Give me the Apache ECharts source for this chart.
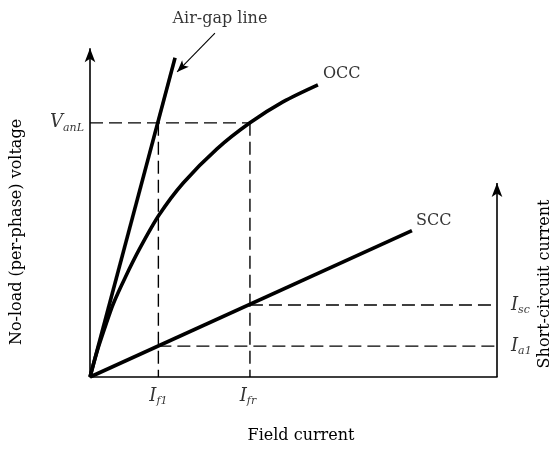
<!DOCTYPE html>
<html>
<head>
<meta charset="utf-8">
<script src="https://cdn.jsdelivr.net/npm/echarts@6/dist/echarts.min.js"></script>
<style>
html,body{margin:0;padding:0;background:#fff;}
#chart{width:557px;height:449px;}
</style>
</head>
<body>
<div id="chart"></div>
<script>
// ---- data (arbitrary units; schematic) ----
const occX = [0, 0.17, 0.37, 0.57, 0.86, 1.23, 1.70, 2.29, 3.12, 3.93, 4.74, 5.60];
const occY = [0, 0.78, 1.55, 2.27, 3.08, 4.01, 5.04, 6.03, 7.09, 7.90, 8.55, 9.08];
const airGapX = [0, 2.09];
const airGapY = [0, 9.92];
const sccX = [0, 7.91];
const sccY = [0, 4.55];
const If1 = 1.68;
const Ifr = 3.93;
const VanL = 7.90;
const Ia1 = 0.96;
const Isc = 2.24;
const xMax = 10;
const leftAxisTop = 10.22;
const rightAxisTop = 6.03;
const noteStart = [3.07, 10.69];
const noteEnd = [2.14, 9.48];

const FONT = '"DejaVu Serif", "Liberation Serif", serif';
const pairs = (xs, ys) => xs.map((x, i) => [x, ys[i]]);

const solid = (w) => ({ color: '#000', width: w, type: 'solid' });
const dash = { color: '#000', width: 1.4, type: [13, 6] };

function seg(name, pts, style) {
  return { type: 'line', name, data: pts, showSymbol: false, silent: true,
    lineStyle: style, z: 3 };
}

const rich = {
  i: { fontFamily: FONT, fontStyle: 'italic', fontSize: 18, lineHeight: 22, color: '#000' },
  s: { fontFamily: FONT, fontStyle: 'italic', fontSize: 11, lineHeight: 11, color: '#000', verticalAlign: 'bottom' },
  t: { fontFamily: FONT, fontSize: 16, color: '#000' }
};

const labels = [
  { value: [occX[occX.length - 1], occY[occY.length - 1]], text: '{t|OCC}', pos: 'right', dist: 5, off: [0, -11] },
  { value: [sccX[1], sccY[1]], text: '{t|SCC}', pos: 'right', dist: 4, off: [0, -10] },
  { value: noteStart, text: '{t|Air-gap line}', pos: 'top', dist: 6, off: [5, 0] },
  { value: [0, VanL], text: '{i|V}{s|anL}', pos: 'left', dist: 6, off: [0, 0] },
  { value: [If1, 0], text: '{i|I}{s|f1}', pos: 'bottom', dist: 8, off: [0, 0] },
  { value: [Ifr, 0], text: '{i|I}{s|fr}', pos: 'bottom', dist: 8, off: [-2, 0] },
  { value: [xMax, Isc], text: '{i|I}{s|sc}', pos: 'right', dist: 14, off: [0, 0] },
  { value: [xMax, Ia1], text: '{i|I}{s|a1}', pos: 'right', dist: 14, off: [0, 0] }
];

const option = {
  animation: false,
  backgroundColor: '#fff',
  grid: { left: 90, right: 60, top: 7, bottom: 72 },
  xAxis: { type: 'value', min: 0, max: xMax,
    axisLine: { show: true, onZero: true, lineStyle: { color: '#000', width: 1.6 } },
    axisTick: { show: false }, axisLabel: { show: false }, splitLine: { show: false } },
  yAxis: { type: 'value', min: 0, max: 11.5, show: false, splitLine: { show: false } },
  graphic: [
    { type: 'text', x: 17, y: 232, rotation: Math.PI / 2,
      style: { text: 'No-load (per-phase) voltage', font: '16px ' + FONT, fill: '#000', align: 'center', verticalAlign: 'middle' } },
    { type: 'text', x: 545, y: 284, rotation: Math.PI / 2,
      style: { text: 'Short-circuit current', font: '16px ' + FONT, fill: '#000', align: 'center', verticalAlign: 'middle' } },
    { type: 'text', x: 301, y: 436,
      style: { text: 'Field current', font: '16px ' + FONT, fill: '#000', align: 'center', verticalAlign: 'middle' } }
  ],
  series: [
    // dashed construction lines
    seg('vanl', [[0, VanL], [Ifr, VanL]], dash),
    seg('ifr', [[Ifr, VanL], [Ifr, 0]], dash),
    seg('if1', [[If1, VanL], [If1, 0]], dash),
    seg('ia1', [[If1, Ia1], [xMax, Ia1]], dash),
    seg('isc', [[Ifr, Isc], [xMax, Isc]], dash),
    // axes with arrows
    { type: 'line', name: 'leftAxis', silent: true, z: 4,
      data: [{ value: [0, 0], symbol: 'none' }, { value: [0, leftAxisTop], symbol: 'arrow', symbolSize: [8, 14] }],
      lineStyle: solid(1.6), itemStyle: { color: '#000' }, showSymbol: true },
    { type: 'line', name: 'rightAxis', silent: true, z: 4,
      data: [{ value: [xMax, 0], symbol: 'none' }, { value: [xMax, rightAxisTop], symbol: 'arrow', symbolSize: [8, 14] }],
      lineStyle: solid(1.6), itemStyle: { color: '#000' }, showSymbol: true },
    // curves
    { type: 'line', name: 'OCC', data: pairs(occX, occY), smooth: 0.3,
      showSymbol: false, silent: true, lineStyle: solid(3.6), z: 5 },
    seg('Air-gap line', pairs(airGapX, airGapY), solid(3.6)),
    seg('SCC', pairs(sccX, sccY), solid(3.6)),
    // annotation arrow
    { type: 'line', name: 'note', data: [], silent: true,
      markLine: { silent: true, symbol: ['none', 'arrow'], symbolSize: [7, 12],
        lineStyle: { color: '#000', width: 1.1, type: 'solid' }, label: { show: false },
        data: [[{ coord: noteStart }, { coord: noteEnd }]] } },
    // text labels
    { type: 'scatter', name: 'labels', symbolSize: 0, silent: true, z: 6,
      data: labels.map(l => ({ value: l.value,
        label: { show: true, position: l.pos, distance: l.dist, offset: l.off,
          formatter: l.text, rich: rich } })) }
  ]
};

const chart = echarts.init(document.getElementById('chart'), null, { renderer: 'canvas' });
chart.setOption(option);
</script>
</body>
</html>
